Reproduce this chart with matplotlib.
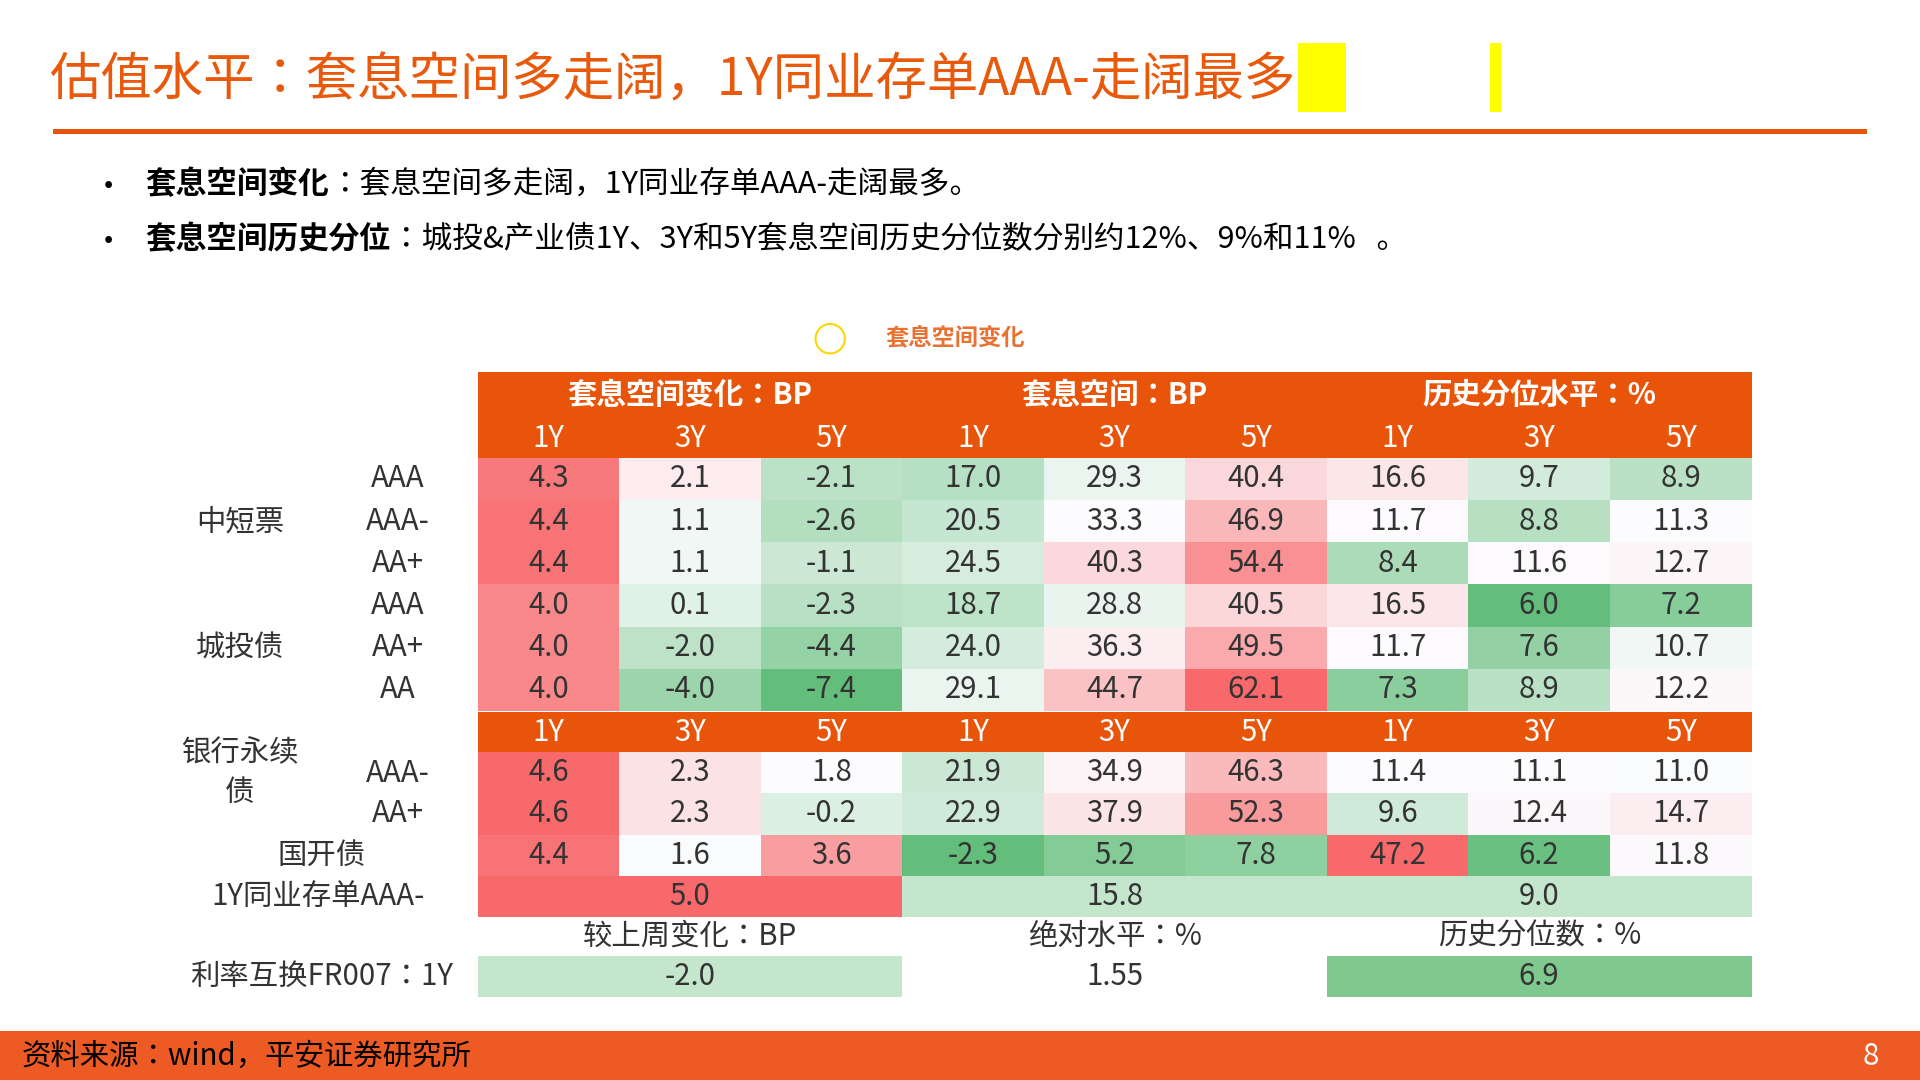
import matplotlib
matplotlib.use("Agg")
import matplotlib.pyplot as plt
from matplotlib.patches import Rectangle, Circle
from matplotlib import font_manager
import numpy as np

names = {f.name for f in font_manager.fontManager.ttflist}
fams = [n for n in ["Noto Sans CJK SC", "Noto Sans CJK JP", "Noto Sans CJK TC", "Noto Sans CJK KR"] if n in names]
plt.rcParams["font.family"] = fams + ["DejaVu Sans"]

title = "估值水平：套息空间多走阔，1Y同业存单AAA-走阔最多"
bullet1_b = "套息空间变化"
bullet1 = "：套息空间多走阔，1Y同业存单AAA-走阔最多。"
bullet2_b = "套息空间历史分位"
bullet2 = "：城投&产业债1Y、3Y和5Y套息空间历史分位数分别约12%、9%和11%   。"
legend_label = "套息空间变化"
group_headers = ["套息空间变化：BP", "套息空间：BP", "历史分位水平：%"]
tenors = ["1Y", "3Y", "5Y"]

top_groups = ["中短票", "城投债"]
top_ratings = ["AAA", "AAA-", "AA+", "AAA", "AA+", "AA"]
top_values = [
    [4.3, 2.1, -2.1, 17.0, 29.3, 40.4, 16.6, 9.7, 8.9],
    [4.4, 1.1, -2.6, 20.5, 33.3, 46.9, 11.7, 8.8, 11.3],
    [4.4, 1.1, -1.1, 24.5, 40.3, 54.4, 8.4, 11.6, 12.7],
    [4.0, 0.1, -2.3, 18.7, 28.8, 40.5, 16.5, 6.0, 7.2],
    [4.0, -2.0, -4.4, 24.0, 36.3, 49.5, 11.7, 7.6, 10.7],
    [4.0, -4.0, -7.4, 29.1, 44.7, 62.1, 7.3, 8.9, 12.2],
]
bottom_labels = ["AAA-", "AA+", "国开债"]
bottom_values = [
    [4.6, 2.3, 1.8, 21.9, 34.9, 46.3, 11.4, 11.1, 11.0],
    [4.6, 2.3, -0.2, 22.9, 37.9, 52.3, 9.6, 12.4, 14.7],
    [4.4, 1.6, 3.6, -2.3, 5.2, 7.8, 47.2, 6.2, 11.8],
]
cd_label = "1Y同业存单AAA-"
cd_values = [5.0, 15.8, 9.0]
swap_headers = ["较上周变化：BP", "绝对水平：%", "历史分位数：%"]
swap_label = "利率互换FR007：1Y"
swap_values = [-2.0, 1.55, 6.9]
source = "资料来源：wind，平安证券研究所"
page = "8"

ORANGE = "#E8550A"
GREEN = np.array([0x63, 0xBE, 0x7B]) / 255
WHITE = np.array([0xFC, 0xFC, 0xFF]) / 255
RED = np.array([0xF8, 0x69, 0x6B]) / 255
TXT = "#333333"

def scale_colors(block):
    a = np.array(block, float)
    lo, mid, hi = a.min(), np.median(a), a.max()
    out = np.zeros(a.shape + (3,))
    for idx, v in np.ndenumerate(a):
        if v <= mid:
            t = (v - lo) / (mid - lo) if mid > lo else 1
            c = GREEN + (WHITE - GREEN) * t
        else:
            t = (v - mid) / (hi - mid) if hi > mid else 0
            c = WHITE + (RED - WHITE) * t
        out[idx] = c
    return out

all_vals = np.vstack([np.array(top_values), np.array(bottom_values)])
all_cols = np.zeros(all_vals.shape + (3,))
for g in range(3):
    all_cols[:, 3 * g:3 * g + 3] = scale_colors(all_vals[:, 3 * g:3 * g + 3])

fig = plt.figure(figsize=(19.2, 10.8), dpi=100)
ax = fig.add_axes([0, 0, 1, 1])
ax.set_xlim(0, 1568)
ax.set_ylim(880, 0)
ax.axis("off")

S = 1.2245 * 0.72  # ref px -> pt

# title
ax.text(40, 66, title, fontsize=42 * S, color="#E8590C", va="center", ha="left")
ax.add_patch(Rectangle((1060, 35), 39, 56, color="#FFFF00", lw=0))
ax.add_patch(Rectangle((1217, 35), 9, 56, color="#FFFF00", lw=0))
ax.add_patch(Rectangle((43, 105), 1482, 4, color=ORANGE, lw=0))

# bullets
fig.canvas.draw()
for y, b, t in [(150, bullet1_b, bullet1), (195, bullet2_b, bullet2)]:
    ax.text(85, y, "•", fontsize=22 * S, va="center", ha="left", color="black")
    tb = ax.text(119, y, b, fontsize=25 * S, va="center", ha="left", fontweight="bold", color="black")
    bb = tb.get_window_extent(renderer=fig.canvas.get_renderer())
    x1 = ax.transData.inverted().transform((bb.x1, bb.y0))[0]
    ax.text(x1, y, t, fontsize=25 * S, va="center", ha="left", color="black")

# legend
ax.add_patch(Circle((678, 276), 12, fill=False, ec="#FFD700", lw=1.5))
ax.text(723, 275, legend_label, fontsize=19 * S, color="#E97132", fontweight="bold", va="center")

X0, CW = 390, 115.6
NF = 24 * S

def cx(i):
    return X0 + CW * (i + 0.5)

# header
ax.add_patch(Rectangle((X0, 303), CW * 9, 70, color=ORANGE, lw=0))
for g, h in enumerate(group_headers):
    ax.text(X0 + CW * (3 * g + 1.5), 322, h, fontsize=24 * S, color="white", ha="center", va="center", fontweight="bold")
for i in range(9):
    ax.text(cx(i), 357, tenors[i % 3], fontsize=NF, color="white", ha="center", va="center")

RH = 34.4
ntop = len(top_values)
for r in range(ntop):
    for c in range(9):
        ax.add_patch(Rectangle((X0 + CW * c, 373 + RH * r), CW, RH, color=all_cols[r, c], lw=0))
        ax.text(cx(c), 373 + RH * (r + 0.5), f"{all_vals[r, c]:.1f}", fontsize=NF, ha="center", va="center", color=TXT)
for r, lab in enumerate(top_ratings):
    ax.text(325, 373 + RH * (r + 0.5), lab, fontsize=NF, ha="center", va="center", color=TXT)
ax.text(196, 425, top_groups[0], fontsize=NF, ha="center", va="center", color=TXT)
ax.text(196, 528, top_groups[1], fontsize=NF, ha="center", va="center", color=TXT)

# second header
ax.add_patch(Rectangle((X0, 580), CW * 9, 33, color=ORANGE, lw=0))
for i in range(9):
    ax.text(cx(i), 597, tenors[i % 3], fontsize=NF, color="white", ha="center", va="center")

RH2 = 33.5
y0 = 613
for r in range(len(bottom_values)):
    for c in range(9):
        ax.add_patch(Rectangle((X0 + CW * c, y0 + RH2 * r), CW, RH2, color=all_cols[ntop + r, c], lw=0))
        ax.text(cx(c), y0 + RH2 * (r + 0.5), f"{all_vals[ntop + r, c]:.1f}", fontsize=NF, ha="center", va="center", color=TXT)
ax.text(196, 613, "银行永续", fontsize=NF, ha="center", va="center", color=TXT)
ax.text(196, 646, "债", fontsize=NF, ha="center", va="center", color=TXT)
ax.text(325, 630, bottom_labels[0], fontsize=NF, ha="center", va="center", color=TXT)
ax.text(325, 663, bottom_labels[1], fontsize=NF, ha="center", va="center", color=TXT)
ax.text(263, 697, bottom_labels[2], fontsize=NF, ha="center", va="center", color=TXT)

# CD row
cd_colors = ["#F8696B", "#C4E6CD", "#C4E6CD"]
ycd = y0 + RH2 * 3
for g in range(3):
    ax.add_patch(Rectangle((X0 + CW * 3 * g, ycd), CW * 3, RH2, color=cd_colors[g], lw=0))
    ax.text(X0 + CW * (3 * g + 1.5), ycd + RH2 / 2, f"{cd_values[g]:.1f}", fontsize=NF, ha="center", va="center", color=TXT)
ax.text(260, ycd + RH2 / 2, cd_label, fontsize=NF, ha="center", va="center", color=TXT)

# swap header + row
for g in range(3):
    ax.text(X0 + CW * (3 * g + 1.5), 763, swap_headers[g], fontsize=NF, ha="center", va="center", color=TXT)
sw_colors = ["#C4E6CD", None, "#7FC98F"]
for g in range(3):
    if sw_colors[g]:
        ax.add_patch(Rectangle((X0 + CW * 3 * g, 779), CW * 3, 33, color=sw_colors[g], lw=0))
    txt = f"{swap_values[g]:.2f}" if g == 1 else f"{swap_values[g]:.1f}"
    ax.text(X0 + CW * (3 * g + 1.5), 796, txt, fontsize=NF, ha="center", va="center", color=TXT)
ax.text(263, 796, swap_label, fontsize=NF, ha="center", va="center", color=TXT)

# footer
ax.add_patch(Rectangle((0, 840), 1568, 40, color="#EE5A24", lw=0))
ax.text(18, 861, source, fontsize=24 * S, ha="left", va="center", color="black")
ax.text(1528, 861, page, fontsize=24 * S, ha="center", va="center", color="white")

fig.savefig("out.png", dpi=100)
